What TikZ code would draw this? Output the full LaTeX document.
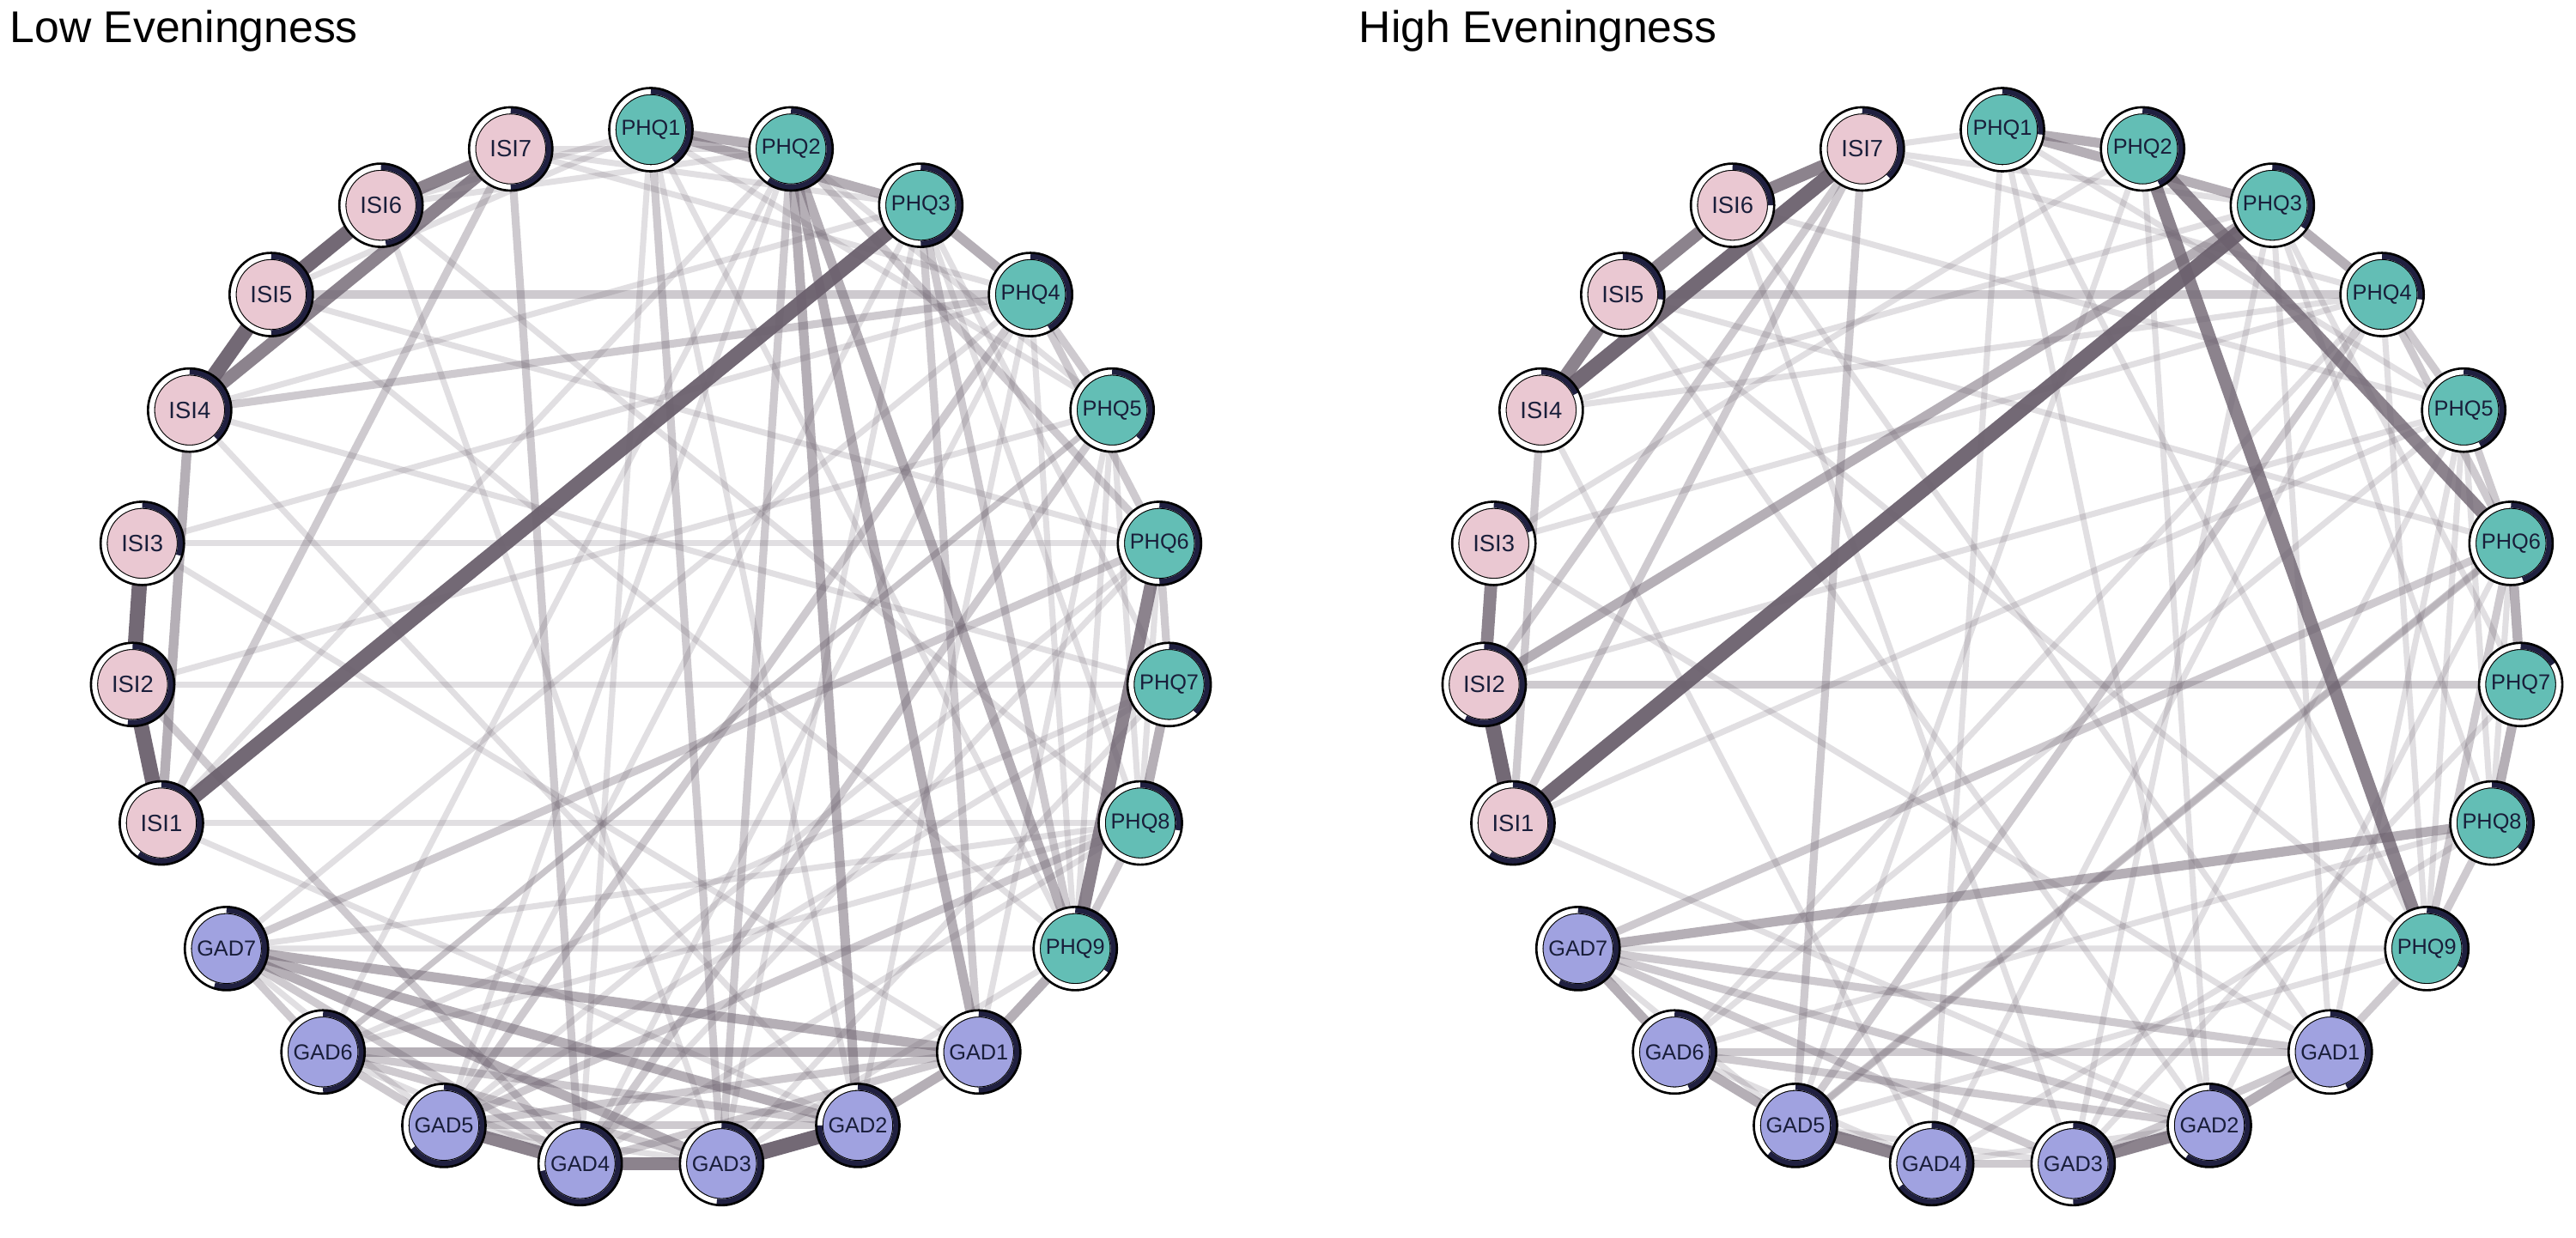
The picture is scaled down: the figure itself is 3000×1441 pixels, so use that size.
\documentclass[tikz,border=0pt]{standalone}
\usepackage{fontspec}
\setmainfont{Liberation Sans}
\pgfdeclarelayer{bglayer}
\pgfdeclarelayer{edgelayer}
\pgfsetlayers{bglayer,edgelayer,main}
\definecolor{phqc}{RGB}{99,190,181}
\definecolor{gadc}{RGB}{160,162,224}
\definecolor{isic}{RGB}{234,200,210}
\definecolor{navyc}{RGB}{32,32,64}
\definecolor{labc}{RGB}{25,30,58}
\definecolor{edgec}{RGB}{108,97,110}
\tikzset{
  netnode/.style={circle, draw=black, line width=0.45pt, minimum size=0.82cm, inner sep=0pt, text=labc},
  phqnode/.style={netnode, fill=phqc, font=\fontsize{7.2pt}{7.2pt}\selectfont},
  gadnode/.style={netnode, fill=gadc, font=\fontsize{7.2pt}{7.2pt}\selectfont},
  isinode/.style={netnode, fill=isic, font=\fontsize{7.8pt}{7.8pt}\selectfont},
  ringbg/.style={draw=white, line width=2pt},
  ringpie/.style={draw=navyc, line width=2pt},
  ringout/.style={draw=black, line width=0.75pt},
  ewa/.style={draw=edgec, draw opacity=0.20, line width=2.0pt},
  ewb/.style={draw=edgec, draw opacity=0.33, line width=2.6pt},
  ewc/.style={draw=edgec, draw opacity=0.50, line width=3.2pt},
  ewd/.style={draw=edgec, draw opacity=0.78, line width=4.2pt},
  ewe/.style={draw=edgec, draw opacity=0.95, line width=5.0pt},
  titletext/.style={anchor=base west, font=\fontsize{14.7pt}{14.7pt}\selectfont, text=black, inner sep=0pt}
}
\newcommand{\netvertex}[6]{%
  \node[#4] (#1) at ({#2},{#3}) {#5};
  \draw[ringbg] (#1.center) circle[radius=0.448cm];
  \draw[ringpie] ([shift={(90:0.448cm)}]#1.center) arc[start angle=90, delta angle={-360*#6}, radius=0.448cm];
  \draw[ringout] (#1.center) circle[radius=0.485cm];
}
\begin{document}
\begin{tikzpicture}[x=0.01cm, y=0.01cm]
\useasboundingbox (0,0) rectangle (3000,1441);
\begin{pgfonlayer}{bglayer}
\fill[white] (0,0) rectangle (3000,1441);
\end{pgfonlayer}
\node[titletext] (tl) at (11,1391) {Low Eveningness};
\node[titletext] (tr) at (1582,1391) {High Eveningness};
% ---------- left network nodes
\foreach \n/\k/\p in {1/0/0.40,2/1/0.60,3/2/0.50,4/3/0.42,5/4/0.38,6/5/0.50,7/6/0.38,8/7/0.28,9/8/0.35}{
  \pgfmathsetmacro\ang{90-\k*360/23}
  \netvertex{Lp\n}{758+605*cos(\ang)}{685+605*sin(\ang)}{phqnode}{PHQ\n}{\p}
}
\foreach \n/\k/\p in {1/9/0.50,2/10/0.75,3/11/0.52,4/12/0.72,5/13/0.65,6/14/0.50,7/15/0.55}{
  \pgfmathsetmacro\ang{90-\k*360/23}
  \netvertex{Lg\n}{758+605*cos(\ang)}{685+605*sin(\ang)}{gadnode}{GAD\n}{\p}
}
\foreach \n/\k/\p in {1/16/0.60,2/17/0.52,3/18/0.30,4/19/0.38,5/20/0.50,6/21/0.48,7/22/0.50}{
  \pgfmathsetmacro\ang{90-\k*360/23}
  \netvertex{Li\n}{758+605*cos(\ang)}{685+605*sin(\ang)}{isinode}{ISI\n}{\p}
}
% ---------- right network nodes
\foreach \n/\k/\p in {1/0/0.27,2/1/0.43,3/2/0.35,4/3/0.27,5/4/0.43,6/5/0.45,7/6/0.16,8/7/0.37,9/8/0.33}{
  \pgfmathsetmacro\ang{90-\k*360/23}
  \netvertex{Rp\n}{2332+605*cos(\ang)}{685+605*sin(\ang)}{phqnode}{PHQ\n}{\p}
}
\foreach \n/\k/\p in {1/9/0.43,2/10/0.60,3/11/0.50,4/12/0.65,5/13/0.62,6/14/0.44,7/15/0.58}{
  \pgfmathsetmacro\ang{90-\k*360/23}
  \netvertex{Rg\n}{2332+605*cos(\ang)}{685+605*sin(\ang)}{gadnode}{GAD\n}{\p}
}
\foreach \n/\k/\p in {1/16/0.60,2/17/0.58,3/18/0.20,4/19/0.18,5/20/0.27,6/21/0.25,7/22/0.38}{
  \pgfmathsetmacro\ang{90-\k*360/23}
  \netvertex{Ri\n}{2332+605*cos(\ang)}{685+605*sin(\ang)}{isinode}{ISI\n}{\p}
}
% ---------- edges
\begin{pgfonlayer}{edgelayer}
% left
\foreach \a/\b in {i3/p6,i1/p8,i2/p7,g7/p9,i7/p4,i7/p3,i6/g3,i5/p6,i5/p9,i4/p3,i4/p7,i3/p4,i2/p5,i1/p2,i1/g2,g7/p8,g6/p5,g5/p6,g4/p4,p1/g2,p1/g4,p2/g5,p2/g6,p3/g5,p4/g7,p5/g6,p8/g4,p7/g3,p1/p5,p3/p8,p5/p8,p1/i6,g6/g4,g7/g5,g5/g3,p9/g3,p8/g6,i3/g1,i6/p8,i4/g2,p1/p9,p3/p7,p5/p9,p6/p8,p4/p9,p2/p5,p1/i5,i7/p2,i6/p2,g1/p5,g2/p4,g3/p3,g4/p6,g5/p7,g6/p7}
  \draw[ewa] (L\a.center) -- (L\b.center);
\foreach \a/\b in {i1/i7,i7/g4,i2/g4,i4/p4,g7/p6,p4/p5,p4/p6,p2/g3,p1/g3,p3/g1,p6/p7,g5/g1,g5/g2,g6/g3,g6/g2,g4/g1,g7/g4,p8/g5,p4/g5,p5/g4,p2/p6,p3/p9,g6/g7,g5/g6,p8/p9,i5/p4}
  \draw[ewb] (L\a.center) -- (L\b.center);
\foreach \a/\b in {i1/i4,p1/p2,p1/p3,p3/p4,p2/g1,p2/g2,p7/p8,p9/g1,g1/g2,g7/g1,g7/g2,g6/g1,g7/g3,p2/p9}
  \draw[ewc] (L\a.center) -- (L\b.center);
\foreach \a/\b in {i6/i7,i4/i7,g3/g4,g4/g5,p6/p9}
  \draw[ewd] (L\a.center) -- (L\b.center);
\foreach \a/\b in {i1/i2,i2/i3,i4/i5,i5/i6,g2/g3,i1/p3}
  \draw[ewe] (L\a.center) -- (L\b.center);
% right
\foreach \a/\b in {i3/p4,g7/p9,i7/p4,i7/p3,i7/p1,i6/g3,i5/p6,i4/p3,i4/p4,i3/p2,i2/p5,i1/p5,i1/g2,g6/p5,g5/p6,g4/p4,p1/g2,p1/g4,p2/g2,p2/g5,p3/g1,p4/g6,p5/g3,p8/g4,p7/g3,p1/p5,p3/p8,p5/p8,p6/p8,p4/p9,p9/g5,g6/g4,g7/g5,g5/g3,g4/g2,p8/g6,i6/g1,i5/g2,i4/g4,i3/g1,p1/p9,p3/p7,p5/p9,g1/p5,g3/p3,g2/p6,i5/p9,i6/p5}
  \draw[ewa] (R\a.center) -- (R\b.center);
\foreach \a/\b in {i1/i4,i1/i7,i7/i2,i7/g5,i5/p4,i2/p7,g7/p6,g7/g1,g7/g2,g7/g3,g6/g1,p4/p5,p5/p6,p6/p9,p8/p9,p4/g5,p6/g5,p4/p6,g3/g4,g6/g2,g1/g3,p9/g1}
  \draw[ewb] (R\a.center) -- (R\b.center);
\foreach \a/\b in {p1/p2,p1/p3,p3/p4,p7/p8,g1/g2,g6/g7,g5/g6,g7/p8,i2/p3,p6/p7}
  \draw[ewc] (R\a.center) -- (R\b.center);
\foreach \a/\b in {i5/i6,i4/i5,i2/i3,g2/g3,g4/g5,p2/p9,p2/p6,i6/i7}
  \draw[ewd] (R\a.center) -- (R\b.center);
\foreach \a/\b in {i1/i2,i1/p3,i4/i7}
  \draw[ewe] (R\a.center) -- (R\b.center);
\end{pgfonlayer}
\end{tikzpicture}
\end{document}
